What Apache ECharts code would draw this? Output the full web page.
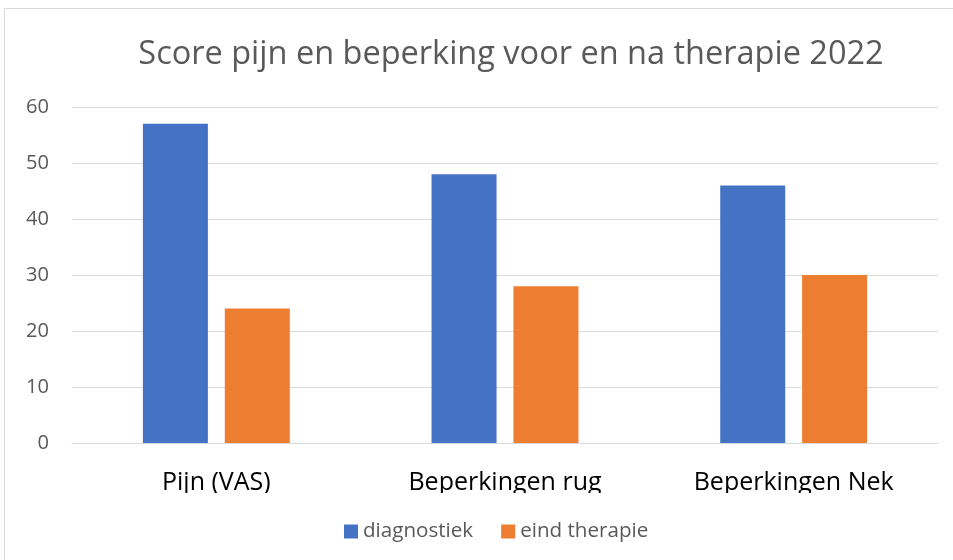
<!DOCTYPE html>
<html><head><meta charset="utf-8">
<script src="https://cdn.jsdelivr.net/npm/echarts@6/dist/echarts.min.js"></script>
<style>html,body{margin:0;padding:0;background:#fff}#c{width:953px;height:560px}</style>
</head><body><div id="c"></div>
<script>
const categories = ['Pijn (VAS)', 'Beperkingen rug', 'Beperkingen Nek'];
const diagnostiek = [57, 48, 46];
const eindTherapie = [24, 28, 30];
const yTicks = {min: 0, max: 60, interval: 10};
const titleText = 'Score pijn en beperking voor en na therapie 2022';

const FONT = 'Open Sans';
const ctx = document.createElement('canvas').getContext('2d');
function fit(text, target) {
  ctx.font = '100px "' + FONT + '"';
  return Math.round(100 * target / ctx.measureText(text).width * 10) / 10;
}
const titleSize = fit(titleText, 745);
const catSize = fit('Beperkingen Nek', 200);
const legSize = fit('diagnostiek', 110);
const ySize = fit('60', 23);

const chart = echarts.init(document.getElementById('c'), null, {renderer: 'canvas'});
chart.setOption({
  animation: false,
  backgroundColor: '#fff',
  title: {
    text: titleText,
    left: 506, top: 55 - titleSize * 0.68, textAlign: 'center',
    textStyle: {fontFamily: FONT, fontWeight: 'normal', fontSize: titleSize, color: '#595959'}
  },
  graphic: [
    {type: 'rect', shape: {x: 4.5, y: 8.5, width: 960, height: 600}, style: {fill: 'none', stroke: '#d9d9d9', lineWidth: 1}, silent: true},
    {type: 'rect', shape: {x: 60, y: 493, width: 880, height: 14}, style: {fill: '#fff'}, z: 100, silent: true}
  ],
  legend: {
    data: ['diagnostiek', 'eind therapie'],
    left: 339, top: 516,
    itemWidth: 14, itemHeight: 14, itemGap: 28,
    icon: 'rect',
    textStyle: {fontFamily: FONT, fontSize: legSize, color: '#595959'}
  },
  grid: {left: 72, right: 15, top: 107, bottom: 117, containLabel: false},
  xAxis: {
    type: 'category', data: categories,
    axisLine: {lineStyle: {color: '#d9d9d9'}},
    axisTick: {show: false},
    axisLabel: {fontFamily: FONT, fontSize: catSize, color: '#000', margin: 27}
  },
  yAxis: {
    type: 'value', min: yTicks.min, max: yTicks.max, interval: yTicks.interval,
    axisLine: {show: false}, axisTick: {show: false},
    splitLine: {lineStyle: {color: '#d9d9d9'}},
    axisLabel: {fontFamily: FONT, fontSize: ySize, color: '#595959', margin: 23}
  },
  series: [
    {name: 'diagnostiek', type: 'bar', data: diagnostiek, barWidth: 65, barGap: '26%', itemStyle: {color: '#4472c4'}},
    {name: 'eind therapie', type: 'bar', data: eindTherapie, barWidth: 65, barGap: '26%', itemStyle: {color: '#ed7d31'}}
  ]
});
</script></body></html>
